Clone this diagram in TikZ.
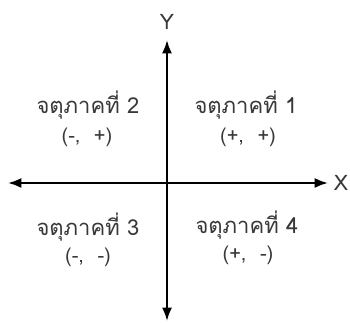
\documentclass[tikz,border=0pt]{standalone}
\usepackage{fontspec}
\newfontfamily\thaifont[Script=Thai]{Loma}
\usetikzlibrary{arrows.meta}
\begin{document}
\begin{tikzpicture}[x=0.75pt,y=-0.75pt,
  axis/.style={line width=1.6pt,-{Latex[length=10pt,width=7.5pt]}},
  qlabel/.style={font=\thaifont\fontsize{16.5pt}{19pt}\selectfont,text=black!78,inner sep=0pt},
  slabel/.style={font=\thaifont\fontsize{15pt}{17pt}\selectfont,text=black!78,inner sep=0pt},
  alabel/.style={font=\thaifont\fontsize{16pt}{18pt}\selectfont,text=black!78,inner sep=0pt}]
\useasboundingbox (0,0) rectangle (350,323);
\coordinate (o) at (167,183);
\coordinate (top) at (167,40);
\coordinate (bot) at (167,321);
\coordinate (left) at (8,183);
\coordinate (right) at (328,183);
\draw[axis] (o) -- (top);
\draw[axis] (o) -- (bot);
\draw[axis] (o) -- (left);
\draw[axis] (o) -- (right);
\node[alabel] (ylab) at (167,22) {Y};
\node[alabel] (xlab) at (341,183) {X};
\node[qlabel] (q2) at (88,105) {จตุภาคที่ 2};
\node[slabel] (s2) at (87,137) {(-,\ \ +)};
\node[qlabel] (q1) at (246,105) {จตุภาคที่ 1};
\node[slabel] (s1) at (248,137) {(+,\ \ +)};
\node[qlabel] (q3) at (88,227) {จตุภาคที่ 3};
\node[slabel] (s3) at (88,257) {(-,\ \ -)};
\node[qlabel] (q4) at (247,225) {จตุภาคที่ 4};
\node[slabel] (s4) at (248,255) {(+,\ \ -)};
\end{tikzpicture}
\end{document}
